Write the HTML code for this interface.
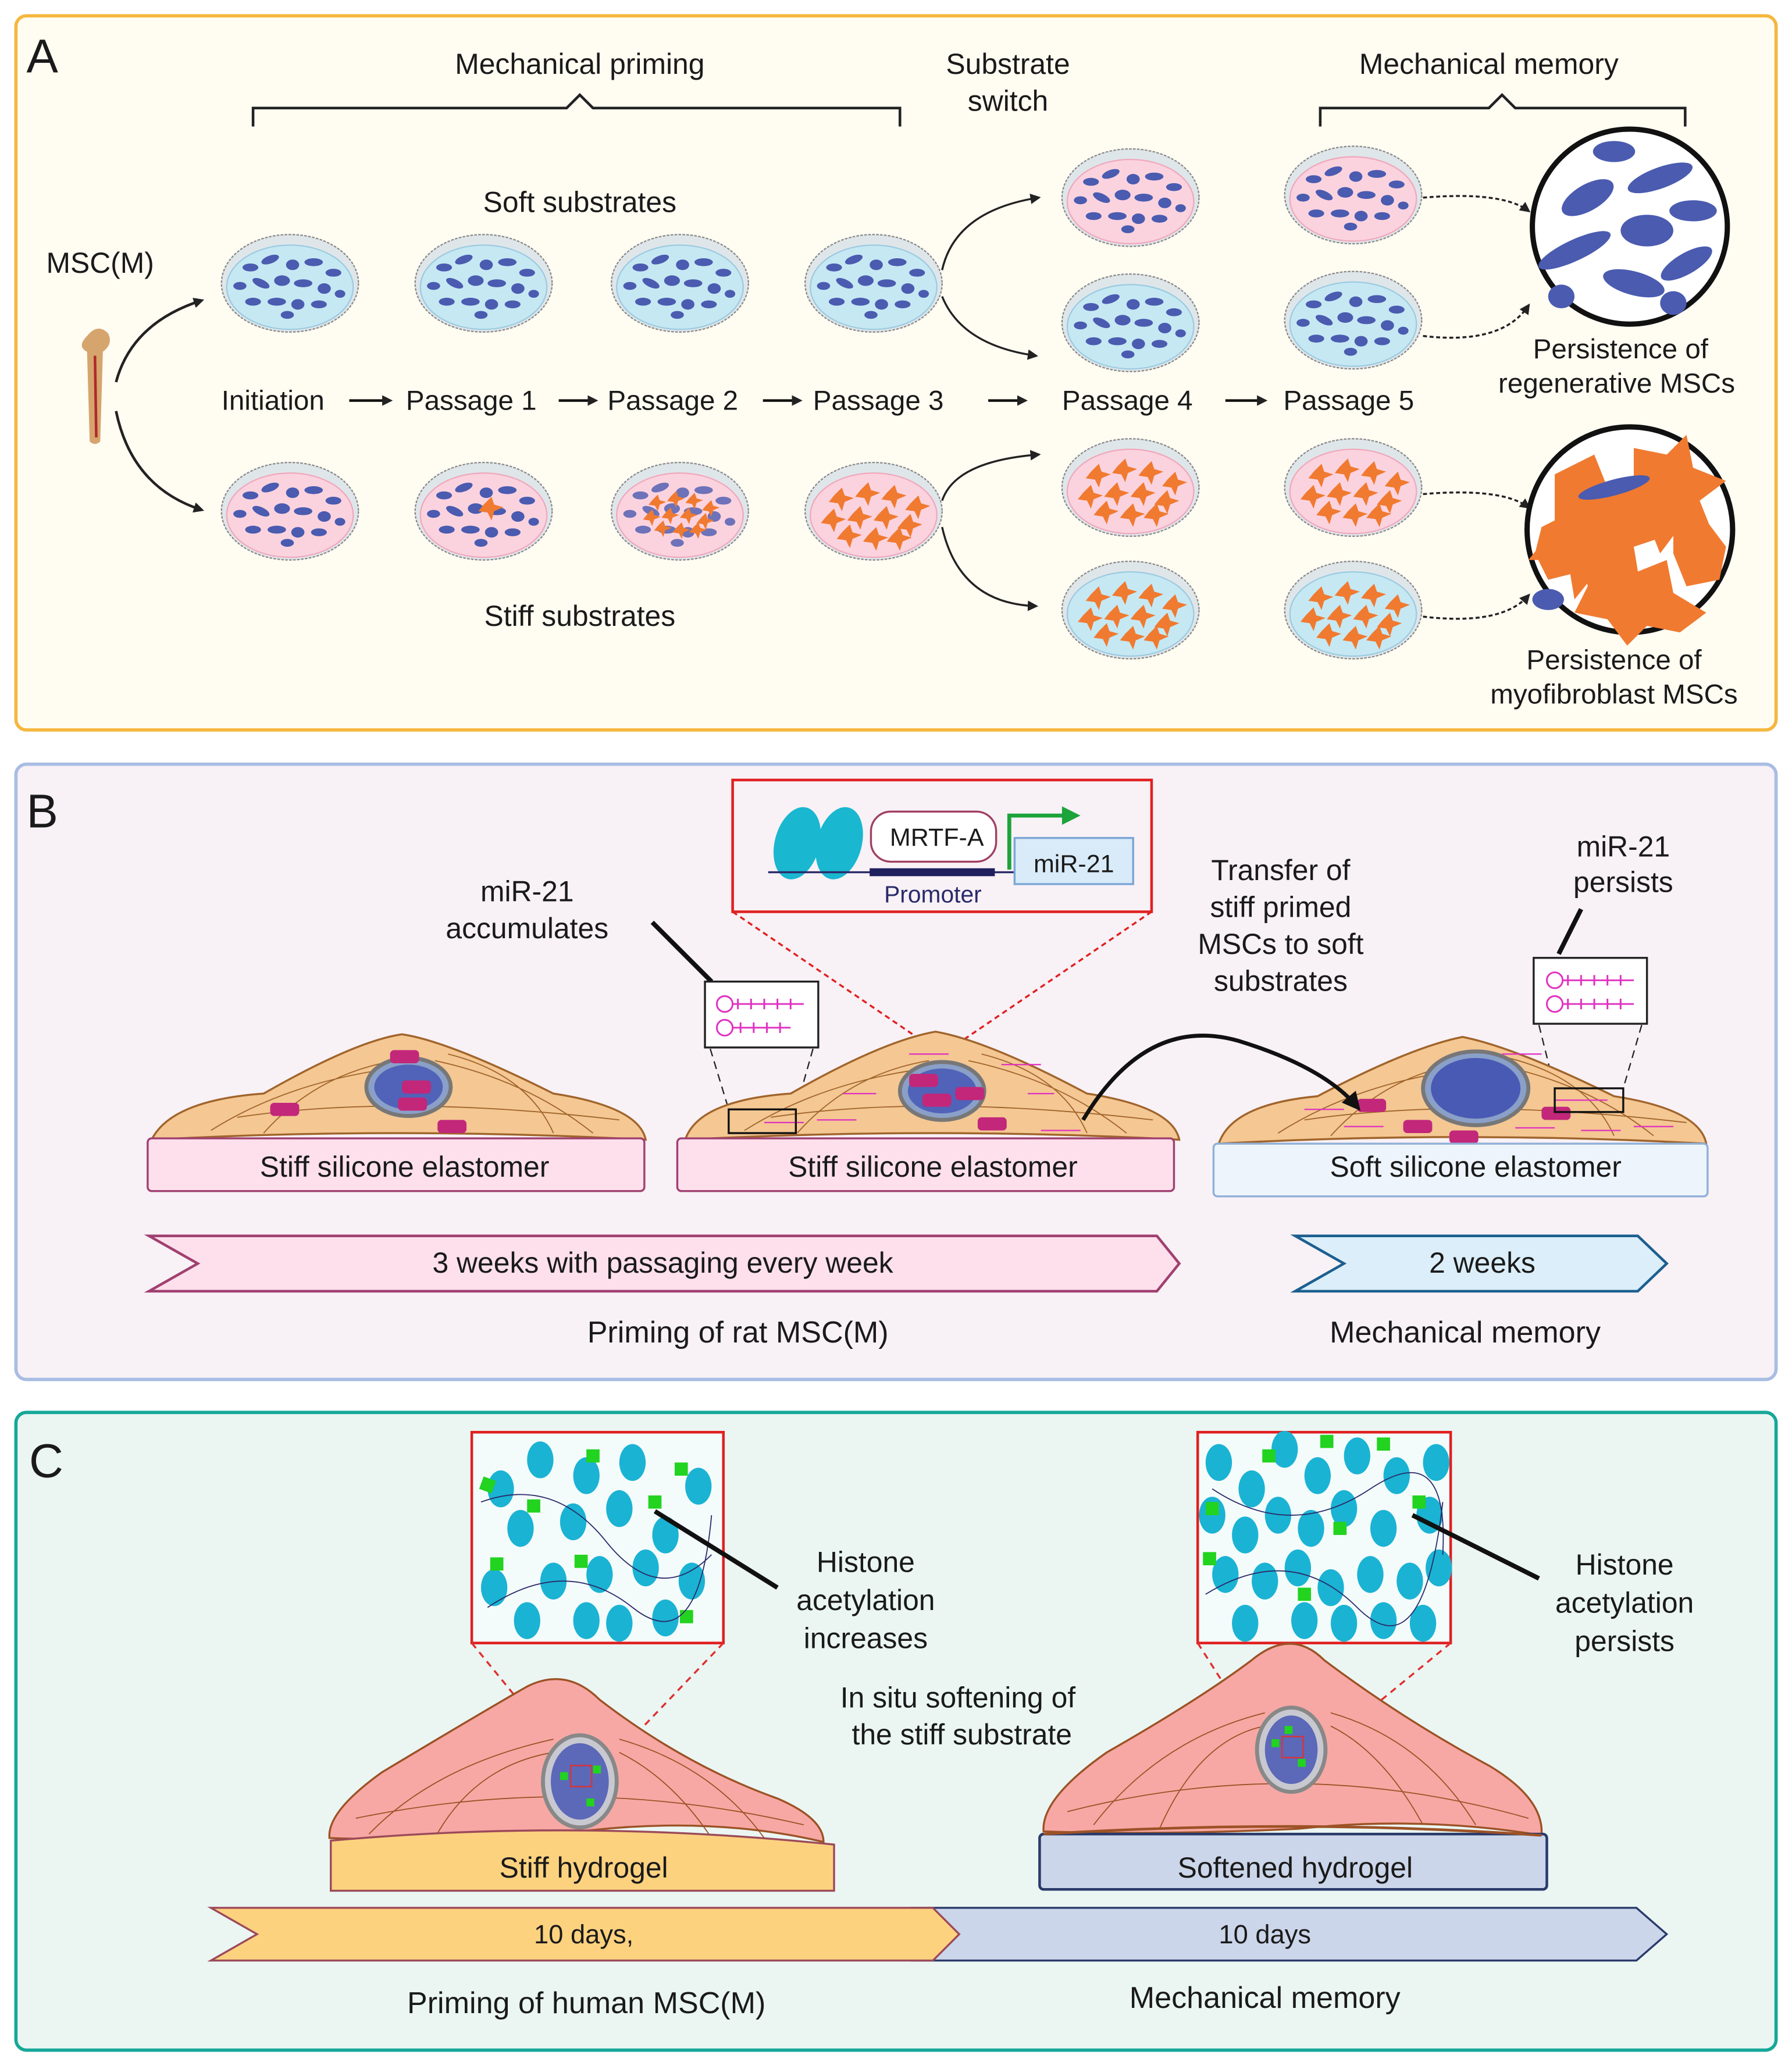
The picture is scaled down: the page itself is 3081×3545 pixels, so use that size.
<!DOCTYPE html>
<html><head><meta charset="utf-8"><style>
html,body{margin:0;padding:0;background:#fff}
svg{display:block}
text{font-family:"Liberation Sans",sans-serif;fill:#1a1a1a}
</style></head><body>
<svg width="3081" height="3545" viewBox="0 0 1360 1565" xmlns="http://www.w3.org/2000/svg">
<defs>
<marker id="ah" markerWidth="8" markerHeight="8" refX="6" refY="4" orient="auto" markerUnits="userSpaceOnUse"><path d="M0,0 L8,4 L0,8 Z" fill="#222"/></marker>
<marker id="ahb" markerWidth="14" markerHeight="14" refX="10" refY="7" orient="auto" markerUnits="userSpaceOnUse"><path d="M0,0 L14,7 L0,14 Z" fill="#111"/></marker>
<g id="bc">
<ellipse cx="-30" cy="-12" rx="6" ry="3" fill="#4a5bb0"/><ellipse cx="-15" cy="-18" rx="7" ry="3" fill="#4a5bb0" transform="rotate(-20 -15 -18)"/>
<ellipse cx="2" cy="-14" rx="5" ry="4" fill="#4a5bb0"/><ellipse cx="18" cy="-16" rx="7" ry="3" fill="#4a5bb0"/>
<ellipse cx="33" cy="-8" rx="6" ry="3" fill="#4a5bb0"/><ellipse cx="-38" cy="2" rx="5" ry="3" fill="#4a5bb0"/>
<ellipse cx="-22" cy="0" rx="7" ry="3" fill="#4a5bb0" transform="rotate(25 -22 0)"/><ellipse cx="-6" cy="-2" rx="6" ry="4" fill="#4a5bb0"/>
<ellipse cx="10" cy="0" rx="7" ry="3" fill="#4a5bb0"/><ellipse cx="26" cy="4" rx="5" ry="4" fill="#4a5bb0"/>
<ellipse cx="-28" cy="14" rx="6" ry="3" fill="#4a5bb0"/><ellipse cx="-10" cy="14" rx="7" ry="3" fill="#4a5bb0"/>
<ellipse cx="6" cy="16" rx="5" ry="4" fill="#4a5bb0"/><ellipse cx="22" cy="16" rx="6" ry="3" fill="#4a5bb0"/>
<ellipse cx="38" cy="8" rx="4" ry="3" fill="#4a5bb0"/><ellipse cx="-2" cy="24" rx="5" ry="3" fill="#4a5bb0"/>
</g>
<g id="oc" fill="#f07a30">
<path d="M-30,-12 l6,-6 l2,6 l7,2 l-7,3 l-2,7 l-3,-6 l-7,-1z"/><path d="M-10,-16 l6,-6 l2,6 l7,2 l-7,3 l-2,7 l-3,-6 l-7,-1z"/>
<path d="M10,-14 l6,-6 l2,6 l7,2 l-7,3 l-2,7 l-3,-6 l-7,-1z"/><path d="M28,-6 l6,-6 l2,6 l7,2 l-7,3 l-2,7 l-3,-6 l-7,-1z"/>
<path d="M-36,4 l6,-6 l2,6 l7,2 l-7,3 l-2,7 l-3,-6 l-7,-1z"/><path d="M-16,2 l6,-6 l2,6 l7,2 l-7,3 l-2,7 l-3,-6 l-7,-1z"/>
<path d="M4,2 l6,-6 l2,6 l7,2 l-7,3 l-2,7 l-3,-6 l-7,-1z"/><path d="M22,8 l6,-6 l2,6 l7,2 l-7,3 l-2,7 l-3,-6 l-7,-1z"/>
<path d="M-24,16 l6,-6 l2,6 l7,2 l-7,3 l-2,7 l-3,-6 l-7,-1z"/><path d="M-4,18 l6,-6 l2,6 l7,2 l-7,3 l-2,7 l-3,-6 l-7,-1z"/>
<path d="M14,18 l6,-6 l2,6 l7,2 l-7,3 l-2,7 l-3,-6 l-7,-1z"/>
</g>
<g id="dishB"><ellipse rx="52" ry="37" fill="#dfe6ea" stroke="#8a8a8a" stroke-width="1" stroke-dasharray="2,1"/><ellipse cy="3" rx="48" ry="32" fill="#c6e8f3" stroke="#9ccbe0"/></g>
<g id="dishP"><ellipse rx="52" ry="37" fill="#dfe6ea" stroke="#8a8a8a" stroke-width="1" stroke-dasharray="2,1"/><ellipse cy="3" rx="48" ry="32" fill="#fbd3df" stroke="#f0a8bc"/></g>
</defs>

<!-- Panel A -->
<rect x="12" y="12" width="1336" height="542" rx="8" fill="#fffcf2" stroke="#f5b73e" stroke-width="2.5"/>
<text x="20" y="55" font-size="36">A</text>
<text x="440" y="56" font-size="22" text-anchor="middle">Mechanical priming</text>
<text x="765" y="56" font-size="22" text-anchor="middle">Substrate</text>
<text x="765" y="84" font-size="22" text-anchor="middle">switch</text>
<text x="1130" y="56" font-size="22" text-anchor="middle">Mechanical memory</text>
<path d="M192,96 V82 H430 L440,72 L450,82 H683 V96" fill="none" stroke="#222" stroke-width="2"/>
<path d="M1002,96 V82 H1130 L1140,72 L1150,82 H1279 V96" fill="none" stroke="#222" stroke-width="2"/>
<text x="440" y="161" font-size="22" text-anchor="middle">Soft substrates</text>
<text x="440" y="475" font-size="22" text-anchor="middle">Stiff substrates</text>
<text x="35" y="207" font-size="22">MSC(M)</text>
<!-- bone -->
<path d="M66,255 q8,-10 16,-2 q4,8 -4,14 l-2,68 q-4,4 -8,0 l-2,-68 q-8,-4 0,-12z" fill="#d6a56e"/>
<line x1="72" y1="270" x2="73" y2="332" stroke="#b02a2a" stroke-width="2"/>
<path d="M88,290 Q100,245 153,228" fill="none" stroke="#222" stroke-width="2" marker-end="url(#ah)"/>
<path d="M88,312 Q100,370 153,387" fill="none" stroke="#222" stroke-width="2" marker-end="url(#ah)"/>
<!-- rows -->
<g transform="translate(220,215)"><use href="#dishB"/><use href="#bc"/></g>
<g transform="translate(367,215)"><use href="#dishB"/><use href="#bc"/></g>
<g transform="translate(516,215)"><use href="#dishB"/><use href="#bc"/></g>
<g transform="translate(663,215)"><use href="#dishB"/><use href="#bc"/></g>
<g transform="translate(220,388)"><use href="#dishP"/><use href="#bc"/></g>
<g transform="translate(367,388)"><use href="#dishP"/><use href="#bc"/><path d="M0,-5 l6,-6 l2,6 l7,2 l-7,3 l-2,7 l-3,-6 l-7,-1z" fill="#f07a30"/></g>
<g transform="translate(516,388)"><use href="#dishP"/><use href="#bc" opacity="0.8"/><g transform="scale(0.7)"><use href="#oc"/></g></g>
<g transform="translate(663,388)"><use href="#dishP"/><use href="#oc"/></g>
<g transform="translate(858,150)"><use href="#dishP"/><use href="#bc"/></g>
<g transform="translate(858,245)"><use href="#dishB"/><use href="#bc"/></g>
<g transform="translate(858,370)"><use href="#dishP"/><use href="#oc"/></g>
<g transform="translate(858,463)"><use href="#dishB"/><use href="#oc"/></g>
<g transform="translate(1027,148)"><use href="#dishP"/><use href="#bc"/></g>
<g transform="translate(1027,243)"><use href="#dishB"/><use href="#bc"/></g>
<g transform="translate(1027,370)"><use href="#dishP"/><use href="#oc"/></g>
<g transform="translate(1027,463)"><use href="#dishB"/><use href="#oc"/></g>
<path d="M715,205 Q725,160 788,150" fill="none" stroke="#222" stroke-width="1.5" marker-end="url(#ah)"/>
<path d="M715,225 Q730,262 786,270" fill="none" stroke="#222" stroke-width="1.5" marker-end="url(#ah)"/>
<path d="M715,380 Q725,350 788,345" fill="none" stroke="#222" stroke-width="1.5" marker-end="url(#ah)"/>
<path d="M715,400 Q728,458 786,460" fill="none" stroke="#222" stroke-width="1.5" marker-end="url(#ah)"/>
<path d="M1080,150 Q1140,145 1160,160" fill="none" stroke="#222" stroke-width="1.5" stroke-dasharray="3,2" marker-end="url(#ah)"/>
<path d="M1080,255 Q1140,262 1160,232" fill="none" stroke="#222" stroke-width="1.5" stroke-dasharray="3,2" marker-end="url(#ah)"/>
<path d="M1080,375 Q1140,370 1160,385" fill="none" stroke="#222" stroke-width="1.5" stroke-dasharray="3,2" marker-end="url(#ah)"/>
<path d="M1080,468 Q1140,475 1160,452" fill="none" stroke="#222" stroke-width="1.5" stroke-dasharray="3,2" marker-end="url(#ah)"/>
<!-- circles -->
<circle cx="1237" cy="172" r="74" fill="#fff" stroke="#111" stroke-width="4"/>
<g fill="#4a5bb0">
<ellipse cx="1205" cy="150" rx="22" ry="10" transform="rotate(-30 1205 150)"/><ellipse cx="1260" cy="135" rx="26" ry="8" transform="rotate(-20 1260 135)"/>
<ellipse cx="1195" cy="190" rx="30" ry="8" transform="rotate(-25 1195 190)"/><ellipse cx="1250" cy="175" rx="20" ry="12"/>
<ellipse cx="1285" cy="160" rx="18" ry="8"/><ellipse cx="1240" cy="215" rx="24" ry="9" transform="rotate(15 1240 215)"/>
<ellipse cx="1280" cy="200" rx="22" ry="8" transform="rotate(-30 1280 200)"/><ellipse cx="1225" cy="115" rx="16" ry="8"/>
<ellipse cx="1185" cy="225" rx="10" ry="9"/><ellipse cx="1270" cy="230" rx="10" ry="9"/>
</g>
<circle cx="1237" cy="402" r="78" fill="#fff" stroke="#111" stroke-width="4"/>
<g fill="#f07a30">
<path d="M1180,360 l30,-15 l10,25 l30,-10 l-10,30 l30,15 l-30,10 l5,30 l-30,-15 l-20,25 l-5,-30 l-30,0 l20,-25 z"/>
<path d="M1240,340 l25,5 l15,-15 l5,25 l25,10 l-20,15 l10,25 l-25,-5 l-15,20 l-10,-25 l-25,0 l15,-20 z"/>
<path d="M1200,420 l25,-5 l15,20 l25,-10 l5,25 l25,15 l-20,15 l-25,-5 l-15,15 l-15,-20 l-25,-5 l10,-20 z"/>
<path d="M1170,400 l20,-10 l10,20 l-5,25 l-20,5 l-10,-20 z"/>
<path d="M1270,400 l25,-5 l15,20 l-5,25 l-25,5 l-10,-25 z"/>
</g>
<ellipse cx="1225" cy="370" rx="28" ry="6" fill="#4a5bb0" transform="rotate(-15 1225 370)"/>
<ellipse cx="1175" cy="455" rx="12" ry="8" fill="#4a5bb0"/>
<text x="1230" y="272" font-size="21" text-anchor="middle">Persistence of</text>
<text x="1227" y="298" font-size="21" text-anchor="middle">regenerative MSCs</text>
<text x="1225" y="508" font-size="21" text-anchor="middle">Persistence of</text>
<text x="1225" y="534" font-size="21" text-anchor="middle">myofibroblast MSCs</text>
<text x="168" y="311" font-size="21">Initiation</text>
<text x="308" y="311" font-size="21">Passage 1</text>
<text x="461" y="311" font-size="21">Passage 2</text>
<text x="617" y="311" font-size="21">Passage 3</text>
<text x="806" y="311" font-size="21">Passage 4</text>
<text x="974" y="311" font-size="21">Passage 5</text>
<g stroke="#111" stroke-width="2" marker-end="url(#ah)">
<line x1="265" y1="304" x2="296" y2="304"/><line x1="424" y1="304" x2="452" y2="304"/><line x1="579" y1="304" x2="607" y2="304"/>
<line x1="750" y1="304" x2="778" y2="304"/><line x1="930" y1="304" x2="960" y2="304"/>
</g>

<!-- Panel B -->
<rect x="12" y="580" width="1336" height="467" rx="8" fill="#f8f1f6" stroke="#a8bde2" stroke-width="2.5"/>
<text x="20" y="628" font-size="36">B</text>
<!-- inset -->
<rect x="556" y="592" width="318" height="100" fill="#f8f1f6" stroke="#e02020" stroke-width="2"/>
<line x1="556" y1="692" x2="700" y2="790" stroke="#e02020" stroke-width="1.5" stroke-dasharray="4,3"/>
<line x1="874" y1="692" x2="730" y2="790" stroke="#e02020" stroke-width="1.5" stroke-dasharray="4,3"/>
<ellipse cx="605" cy="640" rx="17" ry="28" fill="#19b7d0" transform="rotate(15 605 640)"/>
<ellipse cx="637" cy="640" rx="17" ry="28" fill="#19b7d0" transform="rotate(15 637 640)"/>
<line x1="583" y1="662" x2="770" y2="662" stroke="#2a2a6a" stroke-width="1.5"/>
<rect x="660" y="659" width="95" height="6" fill="#1f1f5e"/>
<rect x="661" y="616" width="95" height="38" rx="15" fill="#fff" stroke="#a04060" stroke-width="1.5"/>
<text x="711" y="642" font-size="19" text-anchor="middle">MRTF-A</text>
<path d="M766,660 V619 H808" fill="none" stroke="#1ca33a" stroke-width="3"/><path d="M806,612 L820,619 L806,626 Z" fill="#1ca33a"/>
<rect x="770" y="636" width="90" height="35" fill="#d9ebf8" stroke="#7aa6d6" stroke-width="1.5"/>
<text x="815" y="662" font-size="19" text-anchor="middle">miR-21</text>
<text x="708" y="685" font-size="18" fill="#2a2a6a" text-anchor="middle" style="fill:#2a2a6a">Promoter</text>
<text x="400" y="684" font-size="22" text-anchor="middle">miR-21</text>
<text x="400" y="712" font-size="22" text-anchor="middle">accumulates</text>
<line x1="495" y1="700" x2="540" y2="745" stroke="#111" stroke-width="3.5"/>
<rect x="535" y="745" width="86" height="50" fill="#fff" stroke="#222" stroke-width="1.5"/>
<text x="1232" y="650" font-size="22" text-anchor="middle">miR-21</text>
<text x="1232" y="677" font-size="22" text-anchor="middle">persists</text>
<line x1="1200" y1="690" x2="1183" y2="724" stroke="#111" stroke-width="3.5"/>
<rect x="1164" y="727" width="86" height="50" fill="#fff" stroke="#222" stroke-width="1.5"/>
<g fill="none" stroke="#e030c0" stroke-width="1.3">
<circle cx="550" cy="762" r="6"/><path d="M556,762 H610 M560,758 V766 M570,758 V766 M580,758 V766 M590,758 V766 M600,758 V766"/>
<circle cx="550" cy="780" r="6"/><path d="M556,780 H600 M562,776 V784 M572,776 V784 M582,776 V784 M592,776 V784"/>
<circle cx="1180" cy="744" r="6"/><path d="M1186,744 H1240 M1190,740 V748 M1200,740 V748 M1210,740 V748 M1220,740 V748 M1230,740 V748"/>
<circle cx="1180" cy="762" r="6"/><path d="M1186,762 H1240 M1190,758 V766 M1200,758 V766 M1210,758 V766 M1220,758 V766 M1230,758 V766"/>
</g>
<line x1="539" y1="796" x2="553" y2="842" stroke="#222" stroke-dasharray="6,4"/><line x1="617" y1="796" x2="604" y2="842" stroke="#222" stroke-dasharray="6,4"/>
<line x1="1168" y1="778" x2="1180" y2="826" stroke="#222" stroke-dasharray="6,4"/><line x1="1246" y1="778" x2="1232" y2="826" stroke="#222" stroke-dasharray="6,4"/>
<text x="972" y="668" font-size="22" text-anchor="middle">Transfer of</text>
<text x="972" y="696" font-size="22" text-anchor="middle">stiff primed</text>
<text x="972" y="724" font-size="22" text-anchor="middle">MSCs to soft</text>
<text x="972" y="752" font-size="22" text-anchor="middle">substrates</text>
<!-- cells B -->
<g stroke="#a0642a" stroke-width="1.5" fill="#f4c793">
<path d="M115,865 Q130,835 200,830 Q270,790 305,785 Q340,790 420,830 Q485,840 490,865 Q300,855 115,865 Z"/>
<path d="M520,865 Q530,835 600,830 Q670,790 710,783 Q750,790 825,830 Q890,840 895,865 Q710,855 520,865 Z"/>
<path d="M925,868 Q935,838 1000,832 Q1070,795 1110,787 Q1150,795 1225,832 Q1290,842 1295,868 Q1110,858 925,868 Z"/>
</g>
<g stroke="#a0642a" stroke-width="0.8" fill="none">
<path d="M160,858 Q220,820 305,810 M200,860 Q240,815 300,805 M330,805 Q400,820 450,860 M340,800 Q400,815 420,860 M180,848 Q300,830 470,850"/>
<path d="M565,858 Q625,820 710,810 M605,860 Q645,815 705,805 M735,805 Q805,820 855,860 M745,800 Q805,815 825,860 M585,848 Q705,830 875,850"/>
<path d="M970,860 Q1030,822 1110,812 M1010,862 Q1050,818 1105,808 M1135,808 Q1205,822 1255,862 M1145,803 Q1205,818 1225,862 M990,850 Q1110,832 1280,852"/>
</g>
<ellipse cx="310" cy="825" rx="32" ry="22" fill="#8aa0c8" stroke="#777" stroke-width="3"/><ellipse cx="310" cy="825" rx="26" ry="17" fill="#3848b0" opacity="0.7"/>
<ellipse cx="715" cy="828" rx="32" ry="22" fill="#8aa0c8" stroke="#777" stroke-width="3"/><ellipse cx="715" cy="828" rx="26" ry="17" fill="#3848b0" opacity="0.7"/>
<ellipse cx="1120" cy="826" rx="40" ry="28" fill="#8aa0c8" stroke="#777" stroke-width="3"/><ellipse cx="1120" cy="826" rx="34" ry="23" fill="#3848b0" opacity="0.8"/>
<g fill="#c2277a">
<rect x="296" y="797" width="22" height="10" rx="3"/><rect x="205" y="837" width="22" height="10" rx="3"/><rect x="332" y="850" width="22" height="10" rx="3"/><rect x="305" y="820" width="22" height="10" rx="3"/><rect x="302" y="833" width="22" height="10" rx="3"/>
<rect x="690" y="815" width="22" height="10" rx="3"/><rect x="700" y="830" width="22" height="10" rx="3"/><rect x="725" y="825" width="22" height="10" rx="3"/><rect x="742" y="848" width="22" height="10" rx="3"/>
<rect x="1030" y="834" width="22" height="10" rx="3"/><rect x="1065" y="850" width="22" height="10" rx="3"/><rect x="1170" y="840" width="22" height="10" rx="3"/><rect x="1100" y="858" width="22" height="10" rx="3"/>
</g>
<g fill="none" stroke="#e030c0" stroke-width="1"><path d="M580,852 H610 M640,830 H665 M620,850 H650 M690,800 H720 M760,808 H790 M780,830 H800 M790,858 H820 M990,842 H1020 M1020,855 H1050 M1140,800 H1170 M1150,856 H1180 M1200,858 H1230 M1240,855 H1270 M1180,835 H1220"/></g>
<rect x="553" y="842" width="51" height="18" fill="none" stroke="#111" stroke-width="1.5"/>
<rect x="1180" y="826" width="52" height="18" fill="none" stroke="#111" stroke-width="1.5"/>
<path d="M822,850 Q870,770 940,790 Q1005,810 1030,840" fill="none" stroke="#111" stroke-width="3" marker-end="url(#ahb)"/>
<rect x="112" y="864" width="377" height="40" rx="3" fill="#fde0ec" stroke="#a04070" stroke-width="1.5"/>
<rect x="514" y="864" width="377" height="40" rx="3" fill="#fde0ec" stroke="#a04070" stroke-width="1.5"/>
<rect x="921" y="868" width="375" height="40" rx="3" fill="#eef4fb" stroke="#8fb0d8" stroke-width="1.5"/>
<text x="307" y="893" font-size="22" text-anchor="middle">Stiff silicone elastomer</text>
<text x="708" y="893" font-size="22" text-anchor="middle">Stiff silicone elastomer</text>
<text x="1120" y="893" font-size="22" text-anchor="middle">Soft silicone elastomer</text>
<path d="M113,938 H878 L895,959 L878,980 H113 L150,959 Z" fill="#fde0ec" stroke="#a04070" stroke-width="2"/>
<path d="M983,938 H1243 L1265,959 L1243,980 H983 L1020,959 Z" fill="#dbeef9" stroke="#1c5f8f" stroke-width="2"/>
<text x="503" y="966" font-size="22" text-anchor="middle">3 weeks with passaging every week</text>
<text x="1125" y="966" font-size="22" text-anchor="middle">2 weeks</text>
<text x="560" y="1019" font-size="23" text-anchor="middle">Priming of rat MSC(M)</text>
<text x="1112" y="1019" font-size="23" text-anchor="middle">Mechanical memory</text>

<!-- Panel C -->
<rect x="12" y="1072" width="1336" height="484" rx="8" fill="#ebf6f3" stroke="#16a899" stroke-width="2.5"/>
<text x="22" y="1121" font-size="36">C</text>
<!-- insets -->
<rect x="358" y="1087" width="191" height="160" fill="#f4fbfb" stroke="#e02020" stroke-width="2"/>
<rect x="909" y="1087" width="192" height="160" fill="#f4fbfb" stroke="#e02020" stroke-width="2"/>
<g fill="#1ab3d3">
<ellipse cx="380" cy="1130" rx="10" ry="14"/><ellipse cx="410" cy="1108" rx="10" ry="14"/><ellipse cx="445" cy="1120" rx="10" ry="14"/><ellipse cx="480" cy="1110" rx="10" ry="14"/><ellipse cx="530" cy="1128" rx="10" ry="14"/>
<ellipse cx="395" cy="1160" rx="10" ry="14"/><ellipse cx="435" cy="1155" rx="10" ry="14"/><ellipse cx="470" cy="1145" rx="10" ry="14"/><ellipse cx="505" cy="1165" rx="10" ry="14"/>
<ellipse cx="375" cy="1205" rx="10" ry="14"/><ellipse cx="420" cy="1200" rx="10" ry="14"/><ellipse cx="455" cy="1195" rx="10" ry="14"/><ellipse cx="490" cy="1190" rx="10" ry="14"/><ellipse cx="525" cy="1200" rx="10" ry="14"/>
<ellipse cx="400" cy="1230" rx="10" ry="14"/><ellipse cx="445" cy="1230" rx="10" ry="14"/><ellipse cx="470" cy="1232" rx="10" ry="14"/><ellipse cx="505" cy="1228" rx="10" ry="14"/>
</g>
<g fill="#1ab3d3">
<ellipse cx="925" cy="1110" rx="10" ry="14"/><ellipse cx="950" cy="1130" rx="10" ry="14"/><ellipse cx="975" cy="1100" rx="10" ry="14"/><ellipse cx="1000" cy="1120" rx="10" ry="14"/><ellipse cx="1030" cy="1105" rx="10" ry="14"/><ellipse cx="1060" cy="1120" rx="10" ry="14"/><ellipse cx="1090" cy="1110" rx="10" ry="14"/>
<ellipse cx="920" cy="1150" rx="10" ry="14"/><ellipse cx="945" cy="1165" rx="10" ry="14"/><ellipse cx="970" cy="1150" rx="10" ry="14"/><ellipse cx="995" cy="1160" rx="10" ry="14"/><ellipse cx="1020" cy="1145" rx="10" ry="14"/><ellipse cx="1050" cy="1160" rx="10" ry="14"/><ellipse cx="1085" cy="1150" rx="10" ry="14"/>
<ellipse cx="930" cy="1195" rx="10" ry="14"/><ellipse cx="960" cy="1200" rx="10" ry="14"/><ellipse cx="985" cy="1190" rx="10" ry="14"/><ellipse cx="1010" cy="1205" rx="10" ry="14"/><ellipse cx="1040" cy="1195" rx="10" ry="14"/><ellipse cx="1070" cy="1200" rx="10" ry="14"/><ellipse cx="1092" cy="1190" rx="10" ry="14"/>
<ellipse cx="945" cy="1232" rx="10" ry="14"/><ellipse cx="990" cy="1230" rx="10" ry="14"/><ellipse cx="1020" cy="1232" rx="10" ry="14"/><ellipse cx="1050" cy="1230" rx="10" ry="14"/><ellipse cx="1080" cy="1232" rx="10" ry="14"/>
</g>
<g fill="#22d320">
<rect x="365" y="1122" width="10" height="10" transform="rotate(20 370 1127)"/><rect x="400" y="1138" width="10" height="10"/><rect x="445" y="1100" width="10" height="10"/><rect x="492" y="1135" width="10" height="10"/><rect x="512" y="1110" width="10" height="10"/><rect x="372" y="1182" width="10" height="10"/><rect x="436" y="1180" width="10" height="10"/><rect x="516" y="1222" width="10" height="10"/>
<rect x="915" y="1140" width="10" height="10"/><rect x="958" y="1100" width="10" height="10"/><rect x="1002" y="1089" width="10" height="10"/><rect x="1045" y="1091" width="10" height="10"/><rect x="1072" y="1135" width="10" height="10"/><rect x="1012" y="1155" width="10" height="10"/><rect x="913" y="1178" width="10" height="10"/><rect x="985" y="1205" width="10" height="10"/>
</g>
<g fill="none" stroke="#2a2a6a" stroke-width="0.8"><path d="M365,1140 Q420,1120 460,1170 T540,1180 M370,1220 Q430,1180 480,1220 T540,1150 M920,1130 Q980,1170 1040,1130 T1095,1180 M915,1210 Q980,1170 1030,1220 T1095,1140"/></g>
<line x1="497" y1="1147" x2="590" y2="1205" stroke="#111" stroke-width="3.5"/>
<line x1="1072" y1="1150" x2="1168" y2="1198" stroke="#111" stroke-width="3.5"/>
<text x="657" y="1193" font-size="22" text-anchor="middle">Histone</text>
<text x="657" y="1222" font-size="22" text-anchor="middle">acetylation</text>
<text x="657" y="1251" font-size="22" text-anchor="middle">increases</text>
<text x="1233" y="1195" font-size="22" text-anchor="middle">Histone</text>
<text x="1233" y="1224" font-size="22" text-anchor="middle">acetylation</text>
<text x="1233" y="1253" font-size="22" text-anchor="middle">persists</text>
<text x="727" y="1296" font-size="22" text-anchor="middle">In situ softening of</text>
<text x="730" y="1324" font-size="22" text-anchor="middle">the stiff substrate</text>
<line x1="358" y1="1247" x2="438" y2="1345" stroke="#e03030" stroke-width="1.5" stroke-dasharray="5,4"/>
<line x1="549" y1="1247" x2="455" y2="1345" stroke="#e03030" stroke-width="1.5" stroke-dasharray="5,4"/>
<line x1="909" y1="1247" x2="962" y2="1330" stroke="#e03030" stroke-width="1.5" stroke-dasharray="5,4"/>
<line x1="1101" y1="1247" x2="1000" y2="1330" stroke="#e03030" stroke-width="1.5" stroke-dasharray="5,4"/>
<!-- cells C -->
<path d="M250,1395 Q248,1375 290,1345 Q365,1300 400,1280 Q430,1265 455,1290 Q520,1340 590,1365 Q625,1380 625,1398 Q540,1378 440,1390 Q330,1398 250,1395 Z" fill="#f7a8a4" stroke="#9c5226" stroke-width="1.5"/>
<path d="M792,1390 Q790,1365 840,1330 Q910,1290 950,1260 Q980,1235 1005,1260 Q1065,1305 1130,1340 Q1172,1365 1170,1393 Q1080,1378 985,1388 Q880,1393 792,1390 Z" fill="#f7a8a4" stroke="#9c5226" stroke-width="1.5"/>
<g fill="none" stroke="#9c5226" stroke-width="0.8"><path d="M280,1392 Q330,1340 420,1320 M330,1395 Q360,1340 420,1330 M470,1320 Q540,1340 580,1395 M470,1330 Q510,1350 540,1395 M270,1380 Q440,1345 610,1385 M830,1385 Q880,1320 960,1300 M880,1388 Q910,1320 960,1310 M1010,1300 Q1080,1320 1120,1385 M1010,1310 Q1050,1330 1080,1385 M810,1375 Q985,1330 1160,1380"/></g>
<ellipse cx="440" cy="1352" rx="28" ry="35" fill="#c8c8d0" stroke="#888" stroke-width="3"/><ellipse cx="440" cy="1352" rx="22" ry="29" fill="#3848b0" opacity="0.75"/>
<ellipse cx="980" cy="1328" rx="26" ry="32" fill="#c8c8d0" stroke="#888" stroke-width="3"/><ellipse cx="980" cy="1328" rx="20" ry="26" fill="#3848b0" opacity="0.75"/>
<g fill="#22d320"><rect x="425" y="1345" width="6" height="6"/><rect x="445" y="1365" width="6" height="6"/><rect x="450" y="1340" width="6" height="6"/><rect x="965" y="1320" width="6" height="6"/><rect x="985" y="1335" width="6" height="6"/><rect x="975" y="1310" width="6" height="6"/></g>
<rect x="433" y="1340" width="16" height="16" fill="none" stroke="#e03030"/><rect x="973" y="1318" width="16" height="16" fill="none" stroke="#e03030"/>
<path d="M251,1397 Q440,1380 633,1400 V1435 H251 Z" fill="#fcd27f" stroke="#9c4a5a" stroke-width="1.5"/>
<rect x="789" y="1392" width="385" height="42" rx="3" fill="#ccd6ea" stroke="#2a3a6a" stroke-width="2"/>
<path d="M792,1392 Q985,1380 1170,1393" fill="none" stroke="#9c5226" stroke-width="2"/>
<text x="443" y="1425" font-size="22" text-anchor="middle">Stiff hydrogel</text>
<text x="983" y="1425" font-size="22" text-anchor="middle">Softened hydrogel</text>
<path d="M693,1448 H1242 L1265,1468 L1242,1488 H693 L712,1468 Z" fill="#ccd6ea" stroke="#2a3a6a" stroke-width="1.5"/>
<path d="M160,1448 H708 L728,1468 L708,1488 H160 L195,1468 Z" fill="#fcd27f" stroke="#9c4a5a" stroke-width="1.5"/>
<text x="443" y="1475" font-size="20" text-anchor="middle">10 days,</text>
<text x="960" y="1475" font-size="20" text-anchor="middle">10 days</text>
<text x="445" y="1528" font-size="23" text-anchor="middle">Priming of human MSC(M)</text>
<text x="960" y="1524" font-size="23" text-anchor="middle">Mechanical memory</text>
</svg>
</body></html>
